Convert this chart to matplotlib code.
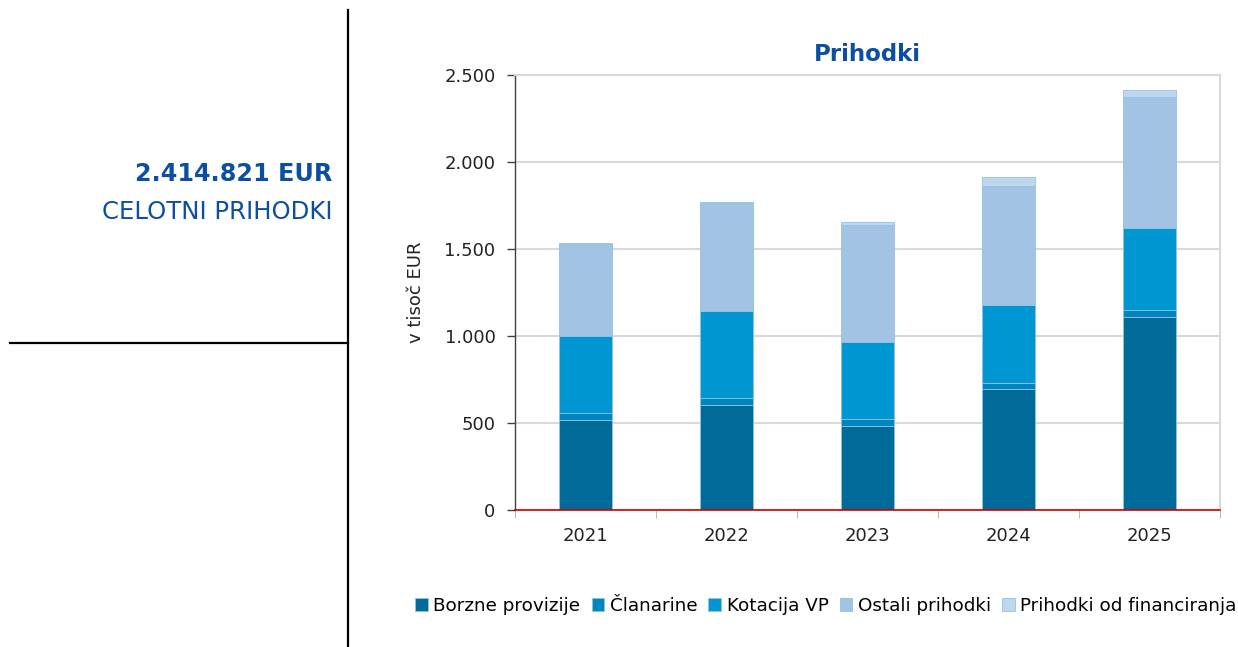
import matplotlib
matplotlib.use("Agg")
import matplotlib.pyplot as plt
from matplotlib.ticker import FuncFormatter
import numpy as np

years = ['2021', '2022', '2023', '2024', '2025']
borzne = [518, 606, 482, 693, 1109]
clanarine = [39, 37, 42, 36, 42]
kotacija = [441, 503, 439, 447, 467]
ostali = [532, 620, 676, 685, 756]
financiranje = [3, 2, 17, 54, 41]

series = [
    ('Borzne provizije', borzne, '#006A99'),
    ('Članarine', clanarine, '#0085BF'),
    ('Kotacija VP', kotacija, '#0096D2'),
    ('Ostali prihodki', ostali, '#A2C3E4'),
    ('Prihodki od financiranja', financiranje, '#C0D6EC'),
]

plt.rcParams['font.family'] = ['DejaVu Sans']
fig = plt.figure(figsize=(12.38, 6.47), dpi=100)
ax = fig.add_axes([515/1238, 1-510/647, 705/1238, 435/647])

x = np.arange(len(years))
bottom = np.zeros(len(years))
for name, vals, col in series:
    ax.bar(x, vals, 0.38, bottom=bottom, color=col, label=name,
           edgecolor='#8FC3E0', linewidth=0.6, zorder=3)
    bottom += np.array(vals)

ax.set_xlim(-0.5, 4.5)
ax.set_ylim(0, 2500)
ax.set_yticks([0, 500, 1000, 1500, 2000, 2500])
ax.yaxis.set_major_formatter(FuncFormatter(lambda v, p: f'{int(v):,}'.replace(',', '.')))
ax.set_xticks(x)
ax.set_xticklabels(years)
ax.set_xticks(np.arange(-0.5, 5, 1), minor=True)
ax.tick_params(axis='x', which='major', length=0, pad=12, labelsize=13, colors='#222222')
ax.tick_params(axis='x', which='minor', length=6, color='#D0A0A0')
ax.tick_params(axis='y', length=6, width=1, color='#404040', pad=8, labelsize=13,
               labelcolor='#222222')
ax.grid(axis='y', color='#D9D9D9', linewidth=1.5, zorder=0)
for s in ['top', 'right']:
    ax.spines[s].set_color('#D9D9D9')
    ax.spines[s].set_linewidth(1.5)
ax.spines['left'].set_color('#404040')
ax.spines['left'].set_linewidth(1.0)
ax.spines['bottom'].set_color('#CC0000')
ax.spines['bottom'].set_linewidth(1.2)
ax.spines['bottom'].set_zorder(4)
ax.set_ylabel('v tisoč EUR', fontsize=13, color='#222222', labelpad=14)
ax.set_title('Prihodki', fontsize=16.5, fontweight='bold', color='#0B4EA2', pad=10)

handles, labels = ax.get_legend_handles_labels()
fig.legend(handles, labels, loc='center', bbox_to_anchor=(826/1238, 1-606/647), ncol=5,
           frameon=False, fontsize=13.2, handlelength=0.7, handleheight=0.7,
           handletextpad=0.3, columnspacing=0.6, borderpad=0)

# left panel
fig.add_artist(plt.Line2D([348/1238, 348/1238], [0, 1-10/647], color='black', linewidth=1.6))
fig.add_artist(plt.Line2D([10/1238, 348/1238], [1-343/647, 1-343/647], color='black', linewidth=1.6))
fig.text(332/1238, 1-174/647, '2.414.821 EUR', ha='right', va='center',
         fontsize=17.2, fontweight='bold', color='#0B4EA2')
fig.text(332/1238, 1-212/647, 'CELOTNI PRIHODKI', ha='right', va='center',
         fontsize=17.6, color='#0B4EA2')

fig.savefig('out.png', dpi=100)
